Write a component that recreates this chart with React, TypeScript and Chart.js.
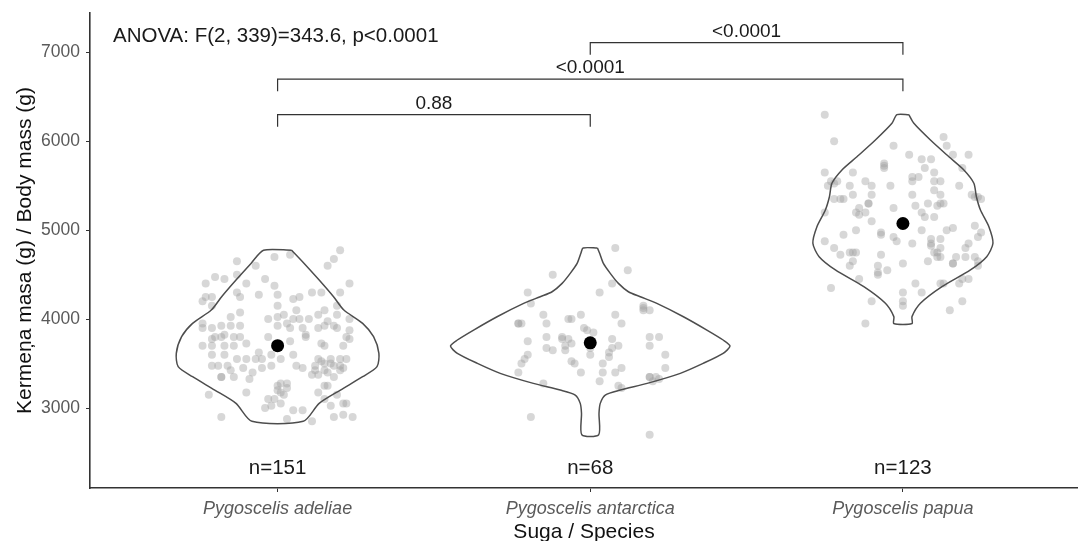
import React, { useEffect, useRef } from "react";
import { Chart, registerables } from "chart.js";

Chart.register(...registerables);

const categories = ["Pygoscelis adeliae", "Pygoscelis antarctica", "Pygoscelis papua"];
const countLabels = ["n=151", "n=68", "n=123"];
const means = [3701, 3733, 5076];
const yTicks = [3000, 4000, 5000, 6000, 7000];
const anovaText = "ANOVA: F(2, 339)=343.6, p<0.0001";
const yTitle = "Kermeņa masa (g) / Body mass (g)";
const xTitle = "Suga / Species";
const countLabelMass = 2320;

const bracketFrom = [0, 0, 1];
const bracketTo = [1, 2, 2];
const bracketHeights = [6300, 6700, 7110];
const bracketLabels = ["0.88", "<0.0001", "<0.0001"];
const bracketTip = 135;

// violin outlines: [body mass (g), half-width of density (category units)]
const adelieViolin: [number, number][] = [
  [4775, 0.045], [4627, 0.085], [4440, 0.133], [4252, 0.179], [4102, 0.212],
  [3952, 0.272], [3802, 0.307], [3615, 0.324], [3465, 0.318], [3352, 0.272],
  [3202, 0.201], [3052, 0.133], [2850, 0.082],
];
const chinstrapViolin: [number, number][] = [
  [4800, 0.023], [4740, 0.030], [4627, 0.042], [4515, 0.064], [4402, 0.090],
  [4308, 0.122], [4252, 0.160], [4177, 0.213], [4027, 0.298], [3877, 0.373],
  [3765, 0.425], [3697, 0.447], [3615, 0.425], [3502, 0.361], [3390, 0.288],
  [3277, 0.182], [3202, 0.096], [3146, 0.048], [3052, 0.032], [2940, 0.028],
  [2700, 0.027],
];
const gentooViolin: [number, number][] = [
  [6300, 0.019], [6203, 0.035], [6015, 0.088], [5827, 0.147], [5678, 0.195],
  [5528, 0.227], [5377, 0.235], [5228, 0.248], [5040, 0.275], [4853, 0.288],
  [4702, 0.268], [4553, 0.216], [4365, 0.125], [4178, 0.056], [4028, 0.029],
  [3950, 0.029],
];

// jittered observations: [horizontal jitter (category units), body mass (g)]
const adeliePoints: [number, number][] = [
  [0.20, 4775], [-0.01, 4700], [0.04, 4725],
  [-0.13, 4650], [0.18, 4675], [0.16, 4600], [-0.07, 4600],
  [-0.20, 4475], [-0.17, 4450], [-0.13, 4500], [-0.04, 4450], [-0.23, 4400], [-0.10, 4400], [0.23, 4400], [-0.01, 4375],
  [-0.24, 4200], [-0.23, 4250], [-0.21, 4250], [-0.13, 4300], [-0.12, 4250], [-0.06, 4275], [0.00, 4275], [0.11, 4300], [0.14, 4300], [0.20, 4300], [0.05, 4225], [0.07, 4250],
  [-0.21, 4150], [-0.12, 4075], [0.00, 4150], [0.06, 4100], [0.15, 4100], [0.19, 4150], [-0.03, 4000], [0.00, 4025], [0.02, 4050], [0.03, 3950], [0.05, 4000], [0.07, 4000], [0.10, 4000], [0.13, 4050], [0.16, 3975], [0.19, 4050], [0.23, 4000],
  [-0.24, 3950], [-0.24, 3900], [-0.21, 3900], [-0.18, 3925], [-0.15, 3925], [-0.12, 3925], [0.00, 3925], [0.04, 3900], [0.08, 3900], [0.13, 3900], [0.15, 3925], [0.18, 3925], [0.19, 3900], [0.23, 3875],
  [-0.21, 3775], [-0.20, 3800], [-0.18, 3800], [-0.17, 3825], [-0.12, 3800], [-0.14, 3800], [-0.10, 3725], [-0.03, 3800], [0.04, 3750], [0.09, 3800], [0.14, 3725], [0.15, 3700], [0.22, 3800], [0.23, 3775], [0.21, 3700], [-0.24, 3700], [-0.21, 3700], [-0.17, 3700], [-0.14, 3700],
  [-0.21, 3600], [-0.17, 3600], [-0.13, 3550], [-0.10, 3550], [-0.07, 3550], [-0.05, 3550], [-0.02, 3600], [0.01, 3550], [0.05, 3600], [0.13, 3550], [0.14, 3525], [0.17, 3550], [0.20, 3550], [0.22, 3550],
  [-0.21, 3475], [-0.19, 3475], [-0.16, 3475], [-0.15, 3425], [-0.11, 3450], [-0.08, 3400], [-0.05, 3450], [-0.02, 3475], [0.08, 3450], [0.12, 3425], [0.12, 3475], [0.15, 3500], [0.15, 3425], [0.17, 3500], [0.18, 3475], [0.20, 3475], [0.20, 3425], [0.11, 3375], [0.13, 3375], [0.16, 3400], [0.18, 3350], [0.21, 3450], [-0.18, 3350], [-0.14, 3350], [-0.09, 3325], [-0.18, 3350],
  [0.00, 3250], [0.01, 3275], [0.03, 3275], [0.00, 3200], [0.01, 3175], [0.03, 3225], [-0.10, 3175], [-0.03, 3100], [-0.01, 3100], [0.13, 3175], [0.15, 3250], [0.16, 3250], [0.15, 3100], [0.19, 3150], [-0.22, 3150], [0.02, 3150],
  [-0.02, 3025], [0.01, 3050], [-0.04, 3000], [0.05, 2975], [0.08, 2975], [0.17, 3025], [0.21, 3050], [0.22, 3050], [-0.18, 2900], [0.03, 2875], [0.11, 2850], [0.18, 2900], [0.21, 2925], [0.24, 2900],
  [-0.06, 3625], [0.09, 3825], [-0.15, 4025], [0.06, 3475],
];
const chinstrapPoints: [number, number][] = [
  [0.08, 4800], [0.12, 4550], [-0.12, 4500], [0.07, 4400], [-0.20, 4300], [0.03, 4300], [-0.19, 4175], [0.17, 4150],
  [0.19, 4100], [0.17, 4100], [-0.15, 4050], [-0.03, 4050], [0.08, 4050], [-0.23, 3950], [-0.22, 3950], [-0.14, 3950],
  [-0.07, 4000], [0.10, 3950], [-0.02, 3900], [-0.01, 3875], [0.01, 3850], [-0.20, 3750], [-0.14, 3800], [-0.09, 3800],
  [-0.07, 3775], [-0.06, 3725], [0.07, 3775], [0.19, 3800], [0.22, 3800], [-0.14, 3675], [-0.12, 3650], [-0.08, 3650],
  [0.00, 3675], [0.00, 3600], [0.07, 3675], [0.09, 3700], [0.19, 3700], [-0.20, 3600], [-0.21, 3550], [-0.22, 3500],
  [0.06, 3575], [0.24, 3600], [-0.06, 3525], [-0.05, 3500], [0.04, 3500], [-0.23, 3400], [-0.03, 3400], [0.04, 3400],
  [0.08, 3400], [0.10, 3450], [0.24, 3450], [0.19, 3350], [0.21, 3350], [0.22, 3325], [0.20, 3300], [-0.15, 3275],
  [0.03, 3300], [0.09, 3250], [0.10, 3225], [-0.19, 2900], [0.19, 2700], [-0.09, 3775], [-0.08, 3700], [0.06, 3625],
  [0.19, 3350], [-0.23, 3950], [0.17, 4125], [-0.06, 4000],
];
const gentooPoints: [number, number][] = [
  [-0.25, 6300], [-0.22, 6000], [0.13, 6050], [0.14, 5950], [-0.03, 5950], [0.16, 5850], [0.21, 5850], [0.02, 5850],
  [0.06, 5800], [0.09, 5800], [0.19, 5700], [-0.06, 5750], [-0.06, 5700], [0.07, 5700], [0.10, 5650], [-0.25, 5650],
  [-0.16, 5650], [-0.21, 5550], [-0.23, 5550], [-0.17, 5500], [-0.12, 5550], [-0.10, 5500], [-0.04, 5500], [0.03, 5600],
  [0.05, 5600], [0.03, 5550], [0.10, 5550], [0.12, 5550], [0.18, 5500], [0.10, 5450], [0.12, 5400], [0.24, 5375],
  [-0.22, 5350], [-0.20, 5350], [-0.16, 5400], [-0.10, 5400], [0.03, 5400], [0.23, 5375], [-0.14, 5250], [-0.11, 5300],
  [-0.11, 5300], [-0.03, 5250], [0.08, 5300], [0.13, 5300], [0.11, 5275], [-0.25, 5200], [-0.15, 5200], [-0.12, 5200],
  [0.06, 5200], [0.07, 5150], [0.10, 5150], [-0.10, 5100], [0.23, 5050], [-0.15, 5000], [-0.19, 4950], [-0.07, 4975],
  [-0.07, 4950], [-0.03, 4925], [-0.02, 4875], [0.06, 5000], [0.14, 5000], [0.16, 5025], [0.12, 4900], [0.09, 4900],
  [0.09, 4850], [0.24, 4925], [-0.25, 4875], [-0.22, 4800], [-0.20, 4725], [-0.17, 4750], [-0.15, 4750], [0.03, 4850],
  [0.12, 4800], [0.21, 4850], [0.10, 4750], [0.11, 4700], [0.08, 4650], [0.12, 4700], [-0.07, 4725], [0.00, 4625],
  [0.16, 4625], [0.17, 4700], [0.20, 4700], [0.23, 4700], [0.24, 4600], [-0.16, 4650], [-0.17, 4600], [-0.08, 4600],
  [-0.08, 4500], [-0.05, 4550], [-0.14, 4450], [-0.23, 4350], [0.04, 4400], [0.06, 4300], [0.12, 4400], [0.13, 4400],
  [0.18, 4400], [0.21, 4450], [0.00, 4300], [0.00, 4200], [0.00, 4150], [-0.10, 4200], [0.15, 4100], [0.19, 4200],
  [-0.12, 3950], [-0.24, 5500], [-0.22, 5525], [0.22, 5400], [0.25, 5350], [0.19, 4450], [0.24, 4650], [0.16, 4625],
  [0.09, 4825], [0.11, 4750], [-0.16, 4750], [-0.08, 4525], [0.04, 5275], [-0.06, 5725], [0.12, 5300], [-0.14, 5175],
  [-0.19, 5350], [0.20, 4800], [0.25, 4975],
];

const violins = [adelieViolin, chinstrapViolin, gentooViolin];
const pointSets = [adeliePoints, chinstrapPoints, gentooPoints];

const FONT = '"Liberation Sans", Arial, Helvetica, sans-serif';

function violinOutline(center: number, prof: [number, number][]) {
  const right = prof.map(([m, w]) => ({ x: center + w, y: m }));
  const left = prof.slice().reverse().map(([m, w]) => ({ x: center - w, y: m }));
  return [...right, ...left, right[0]];
}

const annotationPlugin = {
  id: "annotations",
  afterDatasetsDraw(chart: any) {
    const { ctx, chartArea, scales } = chart;
    const x = scales.x;
    const y = scales.y;
    ctx.save();
    ctx.fillStyle = "#1a1a1a";
    ctx.textBaseline = "middle";
    ctx.textAlign = "left";
    ctx.font = `20.5px ${FONT}`;
    ctx.fillText(anovaText, chartArea.left + 23, chartArea.top + 23);
    ctx.textAlign = "center";
    ctx.font = `20.5px ${FONT}`;
    countLabels.forEach((t, i) => {
      ctx.fillText(t, x.getPixelForValue(i), y.getPixelForValue(countLabelMass));
    });
    ctx.font = `19px ${FONT}`;
    bracketLabels.forEach((t, i) => {
      const cx = x.getPixelForValue((bracketFrom[i] + bracketTo[i]) / 2);
      ctx.fillText(t, cx, y.getPixelForValue(bracketHeights[i]) - 11);
    });
    ctx.restore();
  },
};

export default function App() {
  const ref = useRef<HTMLCanvasElement | null>(null);
  useEffect(() => {
    document.body.style.margin = "0";
    const canvas = ref.current;
    if (!canvas) return;

    const datasets: any[] = [];
    datasets.push({
      label: "mean",
      data: means.map((m, i) => ({ x: i, y: m })),
      pointRadius: 6.5,
      pointBackgroundColor: "#000",
      pointBorderWidth: 0,
      showLine: false,
      order: 0,
    });
    violins.forEach((v, i) => {
      datasets.push({
        label: "violin " + categories[i],
        data: violinOutline(i, v),
        showLine: true,
        borderColor: "#4d4d4d",
        borderWidth: 1.5,
        pointRadius: 0,
        tension: 0.25,
        fill: false,
        order: 1,
      });
    });
    pointSets.forEach((pts, i) => {
      datasets.push({
        label: "obs " + categories[i],
        data: pts.map(([j, m]) => ({ x: i + j, y: m })),
        pointRadius: 4,
        pointBackgroundColor: "rgba(160,160,160,0.42)",
        pointBorderWidth: 0,
        showLine: false,
        order: 2,
      });
    });
    bracketLabels.forEach((_, i) => {
      const a = bracketFrom[i];
      const b = bracketTo[i];
      const h = bracketHeights[i];
      datasets.push({
        label: "bracket " + i,
        data: [
          { x: a, y: h - bracketTip },
          { x: a, y: h },
          { x: b, y: h },
          { x: b, y: h - bracketTip },
        ],
        showLine: true,
        borderColor: "#333",
        borderWidth: 1.2,
        pointRadius: 0,
        tension: 0,
        order: 1,
      });
    });

    const chart = new Chart(canvas, {
      type: "scatter",
      data: { datasets },
      options: {
        animation: false,
        responsive: false,
        layout: { autoPadding: false, padding: { top: 13, right: 0, left: 0, bottom: 0 } },
        plugins: { legend: { display: false }, tooltip: { enabled: false } },
        scales: {
          x: {
            type: "linear",
            min: -0.6,
            max: 2.56,
            afterBuildTicks: (s: any) => {
              s.ticks = categories.map((_, i) => ({ value: i }));
            },
            afterFit: (s: any) => {
              s.height = 53;
              s.paddingLeft = 0;
              s.paddingRight = 0;
            },
            ticks: {
              callback: (v: any) => categories[Math.round(Number(v))] ?? "",
              color: "#5a5a5a",
              font: { family: FONT, size: 18, style: "italic" },
              padding: 6,
              maxRotation: 0,
              autoSkip: false,
            },
            grid: { drawOnChartArea: false, drawTicks: true, tickLength: 4, color: "#333", lineWidth: 1 },
            border: { display: true, color: "#333", width: 1.6 },
            title: {
              display: true,
              text: xTitle,
              color: "#111",
              font: { family: FONT, size: 21 },
              padding: { top: 0, bottom: -4 },
            },
          },
          y: {
            type: "linear",
            min: 2100,
            max: 7444,
            afterBuildTicks: (s: any) => {
              s.ticks = yTicks.map((v) => ({ value: v }));
            },
            afterFit: (s: any) => {
              s.width = 90;
              s.paddingTop = 0;
              s.paddingBottom = 0;
            },
            ticks: {
              callback: (v: any) => String(v),
              color: "#5a5a5a",
              font: { family: FONT, size: 17.5 },
              padding: 6,
            },
            grid: { drawOnChartArea: false, drawTicks: true, tickLength: 4, color: "#333", lineWidth: 1 },
            border: { display: true, color: "#333", width: 1.6 },
            title: {
              display: true,
              text: yTitle,
              color: "#111",
              font: { family: FONT, size: 21 },
              padding: { top: 13, bottom: 0 },
            },
          },
        },
      },
      plugins: [annotationPlugin],
    });
    return () => chart.destroy();
  }, []);

  return (
    <div style={{ width: 1078, height: 541 }}>
      <canvas ref={ref} width={1078} height={541} style={{ display: "block" }} />
    </div>
  );
}
